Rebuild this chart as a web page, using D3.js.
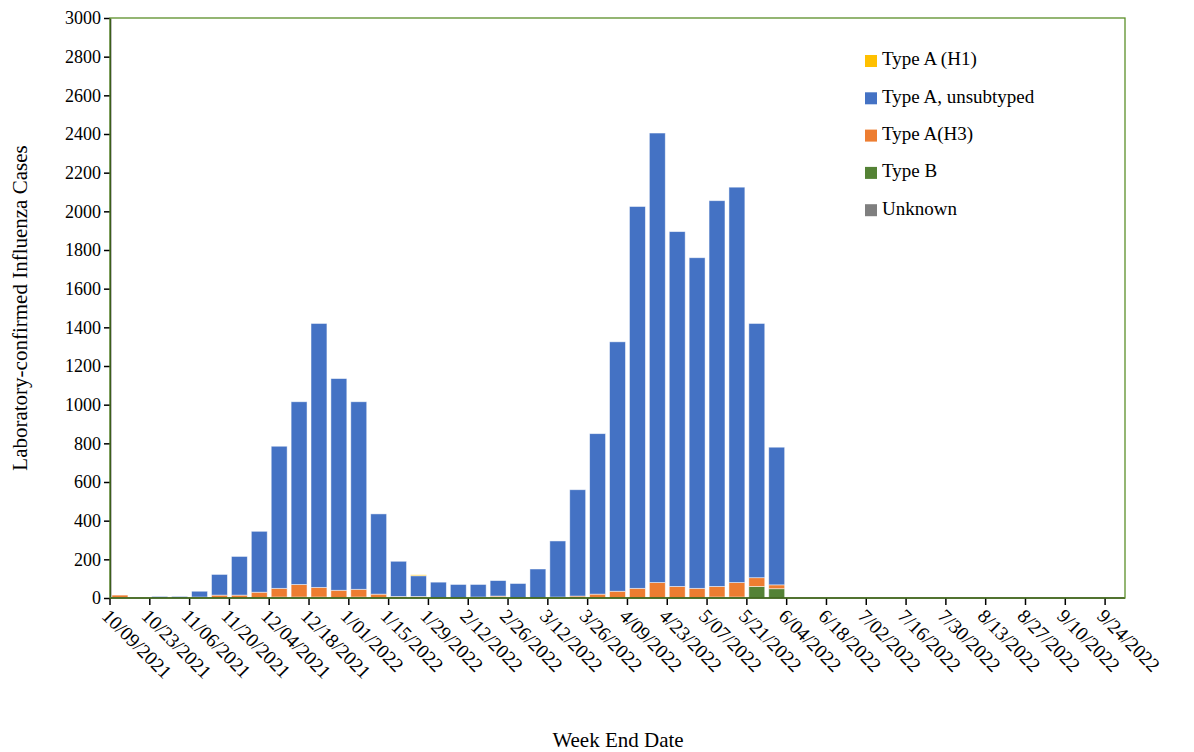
<!DOCTYPE html>
<html><head><meta charset="utf-8">
<script src="https://cdn.jsdelivr.net/npm/d3@7"></script>
<style>body{margin:0;background:#fff}text{font-family:"Liberation Serif","Times New Roman",serif}</style>
</head><body><svg id="c" width="1194" height="752"></svg>
<script>
// weekly cases, 10/09/2021 .. 9/24/2022
const weeks = d3.range(51).map(i => d3.timeFormat("%-m/%d/%Y")(d3.timeDay.offset(new Date(2021, 9, 9), i * 7)));
const typeB   = [3,0,0,0,0,0,0,0,5,5,5,0,5,0,0,0,0,0,0,5,0,0,0,0,0,0,0,0,0,0,5,5,60,48];
const typeH3  = [12,0,0,0,5,15,15,30,45,65,50,40,40,20,8,8,0,0,5,5,0,0,5,10,20,35,50,80,60,50,55,75,45,20];
const totals  = [15,0,8,8,35,122,215,345,785,1015,1420,1135,1015,435,190,120,82,70,70,90,75,150,295,560,850,1325,2025,2405,1895,1760,2055,2125,1420,780];
const typeH1  = [0,0,0,0,0,0,0,0,0,0,0,0,0,0,0,5,0,0,0,0,0,0,0,0,0,0,0,0,0,0,0,0,0,0];
const unknown = [];
const yTicks = d3.range(0, 3001, 200);

const series = [
  { key: "Type B", color: "#548235", vals: typeB },
  { key: "Type A(H3)", color: "#ed7d31", vals: typeH3 },
  { key: "Type A, unsubtyped", color: "#4472c4", vals: totals.map((t, i) => t - (typeB[i] || 0) - (typeH3[i] || 0) - (typeH1[i] || 0)) },
  { key: "Type A (H1)", color: "#ffc000", vals: typeH1 },
  { key: "Unknown", color: "#7f7f7f", vals: unknown }
];
const rows = weeks.map((w, i) => {
  const r = { week: w };
  series.forEach(s => r[s.key] = s.vals[i] || 0);
  return r;
});

const svg = d3.select("#c");
const m = { left: 110, right: 1125, top: 18, bottom: 598 };
const x = d3.scaleBand().domain(weeks).range([m.left, m.right]).paddingInner(0.2).paddingOuter(0.1);
const y = d3.scaleLinear().domain([0, 3000]).range([m.bottom, m.top]);
const stack = d3.stack().keys(series.map(s => s.key))(rows);

stack.forEach((layer, li) => {
  svg.append("g").attr("fill", series[li].color)
    .selectAll("rect").data(layer.filter(d => d[1] > d[0])).join("rect")
    .attr("x", d => x(d.data.week)).attr("width", x.bandwidth())
    .attr("y", d => y(d[1])).attr("height", d => y(d[0]) - y(d[1]))
    .attr("stroke", "#fff").attr("stroke-opacity", 0.6).attr("stroke-width", 0.8);
});

// axes
svg.append("g").attr("transform", `translate(${m.left},0)`)
  .call(d3.axisLeft(y).tickValues(yTicks).tickFormat(d3.format("d")).tickSize(6).tickSizeOuter(0))
  .attr("font-family", "Liberation Serif").attr("font-size", 18)
  .call(g => g.selectAll("text").attr("fill", "#000"))
  .call(g => g.selectAll("line,path").attr("stroke", "#000").attr("stroke-width", 1.5));
const xa = svg.append("g");
xa.append("line").attr("x1", m.left).attr("x2", m.right).attr("y1", m.bottom).attr("y2", m.bottom).attr("stroke", "#000").attr("stroke-width", 1.5);
weeks.forEach((w, i) => {
  if (i % 2) return;
  const tx = m.left + i * x.step();
  xa.append("line").attr("x1", tx).attr("x2", tx).attr("y1", m.bottom).attr("y2", m.bottom + 7).attr("stroke", "#000").attr("stroke-width", 1.5);
  xa.append("text").attr("transform", `translate(${x(w) + x.bandwidth() / 2 - 16},${m.bottom + 16}) rotate(45)`)
    .attr("font-size", 19.5).attr("dominant-baseline", "middle").text(w.replace(/^(\d+)\/(\d)\//, "$1/0$2/"));
});
svg.append("rect").attr("x", m.left).attr("y", m.top).attr("width", m.right - m.left).attr("height", m.bottom - m.top)
  .attr("fill", "none").attr("stroke", "#5b8f29").attr("stroke-width", 1.3);

svg.append("text").attr("x", 618).attr("y", 747).attr("text-anchor", "middle").attr("font-size", 21).text("Week End Date");
svg.append("text").attr("transform", `translate(27,${(m.top + m.bottom) / 2}) rotate(-90)`).attr("text-anchor", "middle").attr("font-size", 21).text("Laboratory-confirmed Influenza Cases");

// legend
const legendOrder = ["Type A (H1)", "Type A, unsubtyped", "Type A(H3)", "Type B", "Unknown"];
legendOrder.forEach((k, i) => {
  const s = series.find(d => d.key === k);
  const ly = 61 + i * 37.3;
  svg.append("rect").attr("x", 865).attr("y", ly - 6).attr("width", 12).attr("height", 12).attr("fill", s.color);
  svg.append("text").attr("x", 882).attr("y", ly).attr("dominant-baseline", "middle").attr("font-size", 19).text(k);
});
</script></body></html>
